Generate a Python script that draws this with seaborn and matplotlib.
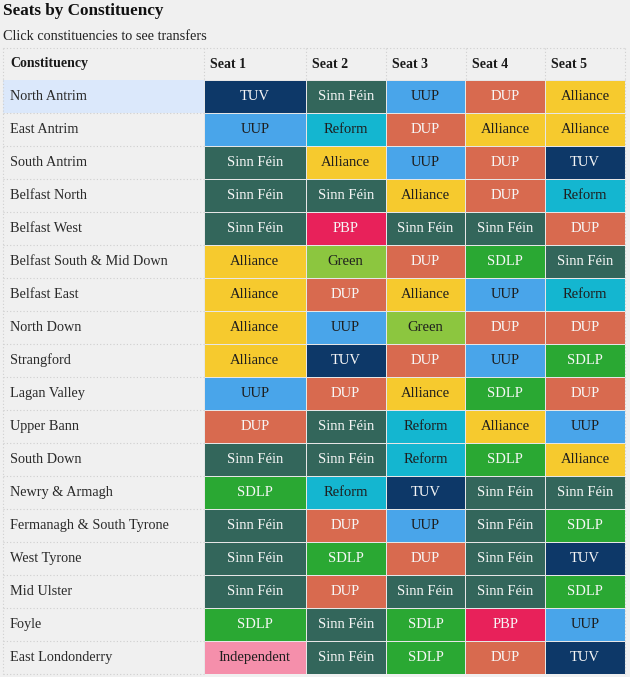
import numpy as np
import pandas as pd
import seaborn as sns
import matplotlib.pyplot as plt
from matplotlib.colors import ListedColormap
from matplotlib.lines import Line2D
from matplotlib.patches import Rectangle

# ---------------- data ----------------
constituencies = [
    "North Antrim", "East Antrim", "South Antrim", "Belfast North", "Belfast West",
    "Belfast South & Mid Down", "Belfast East", "North Down", "Strangford",
    "Lagan Valley", "Upper Bann", "South Down", "Newry & Armagh",
    "Fermanagh & South Tyrone", "West Tyrone", "Mid Ulster", "Foyle", "East Londonderry",
]
seat1 = ["TUV", "UUP", "Sinn Féin", "Sinn Féin", "Sinn Féin", "Alliance", "Alliance", "Alliance",
         "Alliance", "UUP", "DUP", "Sinn Féin", "SDLP", "Sinn Féin", "Sinn Féin", "Sinn Féin",
         "SDLP", "Independent"]
seat2 = ["Sinn Féin", "Reform", "Alliance", "Sinn Féin", "PBP", "Green", "DUP", "UUP",
         "TUV", "DUP", "Sinn Féin", "Sinn Féin", "Reform", "DUP", "SDLP", "DUP",
         "Sinn Féin", "Sinn Féin"]
seat3 = ["UUP", "DUP", "UUP", "Alliance", "Sinn Féin", "DUP", "Alliance", "Green",
         "DUP", "Alliance", "Reform", "Reform", "TUV", "UUP", "DUP", "Sinn Féin",
         "SDLP", "SDLP"]
seat4 = ["DUP", "Alliance", "DUP", "DUP", "Sinn Féin", "SDLP", "UUP", "DUP",
         "UUP", "SDLP", "Alliance", "SDLP", "Sinn Féin", "Sinn Féin", "Sinn Féin", "Sinn Féin",
         "PBP", "DUP"]
seat5 = ["Alliance", "Alliance", "TUV", "Reform", "DUP", "Sinn Féin", "Reform", "DUP",
         "SDLP", "DUP", "UUP", "Alliance", "Sinn Féin", "SDLP", "TUV", "SDLP",
         "UUP", "TUV"]
seat_labels = ["Seat 1", "Seat 2", "Seat 3", "Seat 4", "Seat 5"]

parties = ["TUV", "Sinn Féin", "UUP", "DUP", "Alliance", "Reform", "PBP", "Green", "SDLP", "Independent"]
party_colors = ["#0d3868", "#33665b", "#49a5ea", "#d86a4f", "#f6ca2e", "#14b6d0",
                "#e8215a", "#8cc63f", "#2aa833", "#f58fab"]
dark_text_parties = ["UUP", "Alliance", "Reform", "Green", "Independent"]

title = "Seats by Constituency"
subtitle = "Click constituencies to see transfers"
name_header = "Constituency"
highlighted = "North Antrim"

# ---------------- build table ----------------
labels = pd.DataFrame({s: v for s, v in zip(seat_labels, [seat1, seat2, seat3, seat4, seat5])},
                      index=constituencies)
codes = labels.apply(lambda col: col.map({p: i for i, p in enumerate(parties)}))

W, H = 630, 677
BG = "#f0f0f0"
serif = ["Liberation Serif", "DejaVu Serif"]

sns.set_theme(style="white")
plt.rcParams["font.family"] = serif

fig = plt.figure(figsize=(W / 100, H / 100), dpi=100, facecolor=BG)

def fx(px):
    return px / W

def fy(py):
    return 1 - py / H

# layout in pixels
tab_left, tab_right = 204, 625
tab_top, tab_bottom = 80, 674
head_top = 48
name_left = 3
row_h = (tab_bottom - tab_top) / len(constituencies)

ax = fig.add_axes([fx(tab_left), fy(tab_bottom), fx(tab_right - tab_left), (tab_bottom - tab_top) / H])
ax.set_facecolor(BG)

cmap = ListedColormap(party_colors)
sns.heatmap(codes, ax=ax, cmap=cmap, vmin=-0.5, vmax=len(parties) - 0.5, cbar=False,
            annot=labels.values, fmt="", linewidths=0.5, linecolor="#e6e6e6",
            annot_kws={"fontsize": 10.5})

# wider first column via a piecewise linear x scale
w0 = 102 / 80.0

def fwd(x):
    x = np.asarray(x, dtype=float)
    return np.where(x < 1, x * w0, x + (w0 - 1))

def inv(y):
    y = np.asarray(y, dtype=float)
    return np.where(y < w0, y / w0, y - (w0 - 1))

ax.set_xscale("function", functions=(fwd, inv))
ax.set_xlim(0, 5)
ax.set_xticks([])
ax.set_yticks([])
ax.set_xlabel("")
ax.set_ylabel("")
for sp in ax.spines.values():
    sp.set_visible(False)

for t in ax.texts:
    t.set_color("#1e1e1e" if t.get_text() in dark_text_parties else "#f7f7f7")
    t.set_fontfamily(serif)

# header labels for seats
for i, s in enumerate(seat_labels):
    ax.annotate(s, xy=(i, 1), xycoords=("data", "axes fraction"), xytext=(4.5, 11.5),
                textcoords="offset points", ha="left", va="center",
                fontsize=10, fontweight="bold", color="#1a1a1a")

# highlighted row background
hi = constituencies.index(highlighted)
fig.add_artist(Rectangle((fx(name_left), fy(tab_top + row_h * (hi + 1))),
                         fx(tab_left - name_left), row_h / H,
                         transform=fig.transFigure, facecolor="#dbe8fb", edgecolor="none", zorder=0))

# constituency names
for i, name in enumerate(constituencies):
    fig.text(fx(10), fy(tab_top + row_h * (i + 0.5)), name, ha="left", va="center",
             fontsize=10.3, color="#2a2a2a")
fig.text(fx(10), fy(64), name_header, ha="left", va="center", fontsize=10,
         fontweight="bold", color="#1a1a1a")

# dotted guide lines
dot = dict(transform=fig.transFigure, color="#cfcfcf", lw=0.8, linestyle=(0, (1, 2)), zorder=0.5)
fig.add_artist(Line2D([fx(name_left), fx(tab_right)], [fy(head_top), fy(head_top)], **dot))
for k in range(1, len(constituencies) + 1):
    yy = fy(tab_top + row_h * k)
    fig.add_artist(Line2D([fx(name_left), fx(tab_left)], [yy, yy], **dot))
col_edges_px = [name_left, 204, 306, 386, 466, 545, 625]
for xe in col_edges_px:
    fig.add_artist(Line2D([fx(xe), fx(xe)], [fy(head_top), fy(tab_top)], **dot))
fig.add_artist(Line2D([fx(name_left), fx(name_left)], [fy(tab_top), fy(tab_bottom)], **dot))
fig.add_artist(Line2D([fx(tab_right), fx(tab_right)], [fy(tab_top), fy(tab_bottom)], **dot))

# titles
fig.text(fx(3), fy(11), title, ha="left", va="center", fontsize=12.3, fontweight="bold", color="#111111")
fig.text(fx(3), fy(37), subtitle, ha="left", va="center", fontsize=10.3, color="#222222")

fig.savefig("out.png", dpi=100, facecolor=BG)
